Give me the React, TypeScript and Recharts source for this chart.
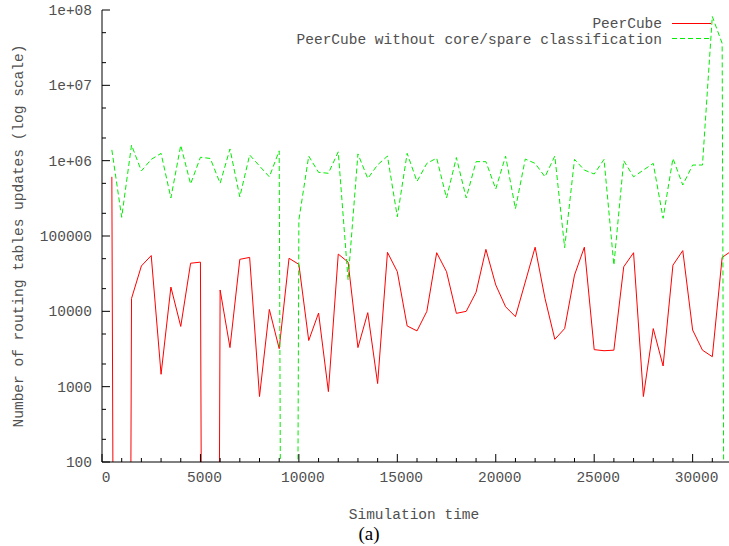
import React from "react";
import { LineChart, Line, XAxis, YAxis } from "recharts";

// ===== data (0 = no update, drawn as a drop to the floor) =====
const times = [
  500, 1000, 1500, 2000, 2500, 3000, 3500, 4000, 4500, 5000, 5500, 6000, 6500,
  7000, 7500, 8000, 8500, 9000, 9500, 10000, 10500, 11000, 11500, 12000, 12500,
  13000, 13500, 14000, 14500, 15000, 15500, 16000, 16500, 17000, 17500, 18000,
  18500, 19000, 19500, 20000, 20500, 21000, 21500, 22000, 22500, 23000, 23500,
  24000, 24500, 25000, 25500, 26000, 26500, 27000, 27500, 28000, 28500, 29000,
  29500, 30000, 30500, 31000, 31500, 32000,
];

const peerCube = [
  610000, 0, 14800, 40000, 55000, 1460, 21000, 6300, 43500, 45000, 0, 19200,
  3300, 49000, 52000, 740, 10600, 3200, 50600, 42000, 4100, 9500, 860, 57500,
  45000, 3300, 9600, 1100, 60700, 33600, 6400, 5500, 10000, 60000, 33600, 9400,
  10000, 17900, 66500, 22400, 11500, 8500, 24500, 71000, 14900, 4250, 5900,
  30300, 71000, 3100, 3000, 3050, 39000, 60000, 740, 5900, 1880, 41000, 64000,
  5650, 3050, 2500, 52000, 64000,
];

const peerCubeNoClass = [
  1390000, 177000, 1610000, 730000, 1040000, 1250000, 320000, 1600000, 490000,
  1110000, 1070000, 500000, 1430000, 330000, 1190000, 850000, 610000, 1350000,
  0, 163000, 1150000, 700000, 680000, 1310000, 26000, 1230000, 580000, 880000,
  1150000, 180000, 1250000, 530000, 920000, 1080000, 320000, 1100000, 320000,
  970000, 970000, 420000, 1150000, 230000, 1050000, 920000, 610000, 1150000,
  70000, 1040000, 750000, 665000, 1040000, 41000, 1000000, 610000, 750000,
  920000, 172000, 1070000, 475000, 875000, 875000, 82000000, 36000000, 0,
];

const seriesNames = ["PeerCube", "PeerCube without core/spare classification"];

const xTicks = [
  0, 1000, 2000, 3000, 4000, 5000, 6000, 7000, 8000, 9000, 10000, 11000, 12000,
  13000, 14000, 15000, 16000, 17000, 18000, 19000, 20000, 21000, 22000, 23000,
  24000, 25000, 26000, 27000, 28000, 29000, 30000, 31000, 32000,
];
const xLabelled = [0, 5000, 10000, 15000, 20000, 25000, 30000];

const yTicks = [
  100, 200, 500, 1000, 2000, 5000, 10000, 20000, 50000, 100000, 200000, 500000,
  1e6, 2e6, 5e6, 1e7, 2e7, 5e7, 1e8,
];
const yMajor = [100, 1000, 10000, 100000, 1e6, 1e7, 1e8];
const yMajorLabels = ["100", "1000", "10000", "100000", "1e+06", "1e+07", "1e+08"];

// log(0) is -inf: gnuplot draws a straight drop to the bottom, so push zeros far below
const FLOOR = 1e-30;
const rows = times.map((t, i) => ({
  t,
  a: peerCube[i] > 0 ? peerCube[i] : FLOOR,
  b: peerCubeNoClass[i] > 0 ? peerCubeNoClass[i] : FLOOR,
}));

const FONT = "'Liberation Mono', 'DejaVu Sans Mono', monospace";
const TXT = "#505050";
const RED = "#ff0000";
const GREEN = "#00ee00";

const LeftTick = (p: any) => {
  const i = yMajor.indexOf(p.payload.value);
  const len = i >= 0 ? 8 : 4;
  return (
    <g>
      <line x1={p.x} y1={p.y} x2={p.x + len} y2={p.y} stroke="#000" />
      {i >= 0 && (
        <text x={p.x - 10} y={p.y + 5} textAnchor="end" fontFamily={FONT} fontSize={14.5} fill={TXT}>
          {yMajorLabels[i]}
        </text>
      )}
    </g>
  );
};

const RightTick = (p: any) => {
  const len = yMajor.indexOf(p.payload.value) >= 0 ? 8 : 4;
  return <line x1={p.x} y1={p.y} x2={p.x - len} y2={p.y} stroke="#000" />;
};

const BottomTick = (p: any) => {
  const major = xLabelled.indexOf(p.payload.value) >= 0;
  return (
    <g>
      <line x1={p.x} y1={p.y} x2={p.x} y2={p.y - (major ? 8 : 4)} stroke="#000" />
      {major && (
        <text x={p.x + 4} y={p.y + 20} textAnchor="middle" fontFamily={FONT} fontSize={14.5} fill={TXT}>
          {p.payload.value}
        </text>
      )}
    </g>
  );
};

const TopTick = (p: any) => {
  const major = xLabelled.indexOf(p.payload.value) >= 0;
  return <line x1={p.x} y1={p.y} x2={p.x} y2={p.y + (major ? 8 : 4)} stroke="#000" />;
};

const XTitle = (p: any) => {
  const vb = p.viewBox || {};
  return (
    <text x={vb.x + vb.width / 2 - 3} y={vb.y + 57} textAnchor="middle" fontFamily={FONT} fontSize={14.5} fill={TXT}>
      Simulation time
    </text>
  );
};

const YTitle = (p: any) => {
  const vb = p.viewBox || {};
  const cy = vb.y + vb.height / 2;
  return (
    <text
      x={22.5}
      y={cy}
      transform={`rotate(-90, 22.5, ${cy})`}
      textAnchor="middle"
      fontFamily={FONT}
      fontSize={14.5}
      fill={TXT}
    >
      Number of routing tables updates (log scale)
    </text>
  );
};

export default function App() {
  return (
    <div
      style={{
        position: "absolute",
        left: 0,
        top: 0,
        width: 729,
        height: 546,
        overflow: "hidden",
        background: "#fff",
      }}
    >
      <LineChart width={732} height={546} data={rows} margin={{ top: 10, right: 0, bottom: 0, left: 0 }}>
        <XAxis
          xAxisId="b"
          dataKey="t"
          type="number"
          domain={[0, 32000]}
          allowDataOverflow
          ticks={xTicks}
          interval={0}
          tickSize={0}
          tickMargin={0}
          tickLine={false}
          tick={BottomTick}
          axisLine={{ stroke: "#000" }}
          height={84}
          label={<XTitle />}
        />
        <XAxis
          xAxisId="t"
          orientation="top"
          dataKey="t"
          type="number"
          domain={[0, 32000]}
          allowDataOverflow
          ticks={xTicks}
          interval={0}
          tickSize={0}
          tickMargin={0}
          tickLine={false}
          tick={TopTick}
          axisLine={{ stroke: "#000" }}
          height={0}
        />
        <YAxis
          yAxisId="l"
          type="number"
          scale="log"
          domain={[100, 1e8]}
          allowDataOverflow
          ticks={yTicks}
          interval={0}
          tickSize={0}
          tickMargin={0}
          tickLine={false}
          tick={LeftTick}
          axisLine={{ stroke: "#000" }}
          width={102}
          label={<YTitle />}
        />
        <YAxis
          yAxisId="r"
          orientation="right"
          type="number"
          scale="log"
          domain={[100, 1e8]}
          allowDataOverflow
          ticks={yTicks}
          interval={0}
          tickSize={0}
          tickMargin={0}
          tickLine={false}
          tick={RightTick}
          axisLine={{ stroke: "#000" }}
          width={0}
        />
        <Line
          xAxisId="t"
          yAxisId="r"
          dataKey="a"
          stroke="none"
          dot={false}
          activeDot={false}
          isAnimationActive={false}
        />
        <Line
          xAxisId="b"
          yAxisId="l"
          type="linear"
          dataKey="a"
          name={seriesNames[0]}
          stroke={RED}
          strokeWidth={1}
          dot={false}
          activeDot={false}
          isAnimationActive={false}
        />
        <Line
          xAxisId="b"
          yAxisId="l"
          type="linear"
          dataKey="b"
          name={seriesNames[1]}
          stroke={GREEN}
          strokeWidth={1}
          strokeDasharray="5 3"
          dot={false}
          activeDot={false}
          isAnimationActive={false}
        />
      </LineChart>
      <svg
        width={729}
        height={546}
        style={{ position: "absolute", left: 0, top: 0, pointerEvents: "none" }}
      >
        <text x={662} y={28} textAnchor="end" fontFamily={FONT} fontSize={14.5} fill={TXT}>
          {seriesNames[0]}
        </text>
        <line x1={672} y1={23.5} x2={711} y2={23.5} stroke={RED} />
        <text x={662} y={43.5} textAnchor="end" fontFamily={FONT} fontSize={14.5} fill={TXT}>
          {seriesNames[1]}
        </text>
        <line x1={672} y1={38.5} x2={711} y2={38.5} stroke={GREEN} strokeDasharray="5 3" />
        <text x={369} y={540} textAnchor="middle" fontFamily="'Liberation Serif', 'DejaVu Serif', serif" fontSize={19} fill="#000">
          (a)
        </text>
      </svg>
    </div>
  );
}
